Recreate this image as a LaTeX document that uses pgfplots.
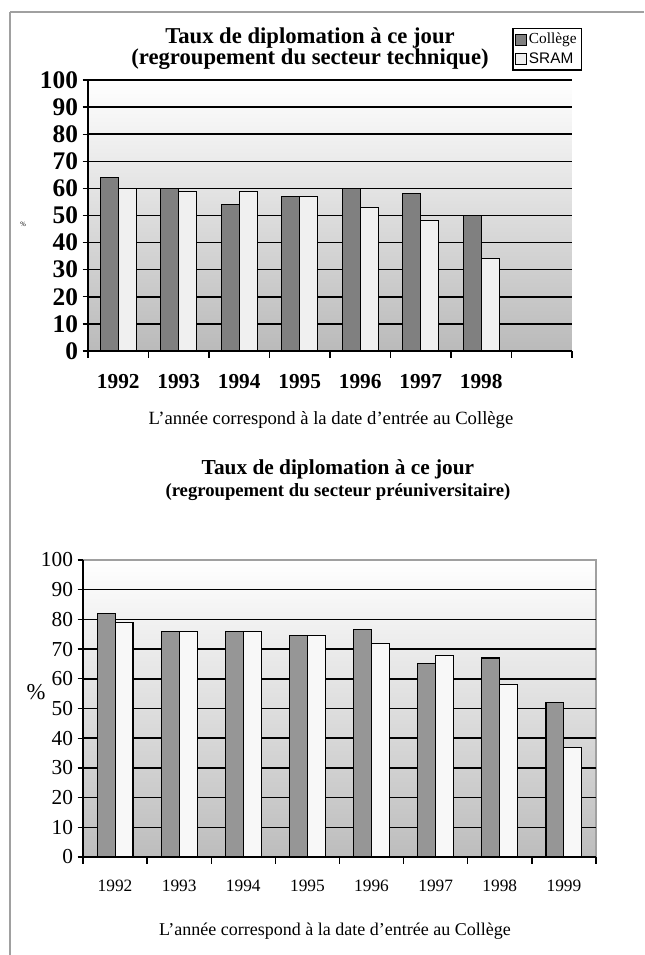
\documentclass[border=0pt]{standalone}
\usepackage{fontspec}
\setmainfont{Liberation Serif}
\newfontfamily\arialfont{Liberation Sans}
\usepackage{pgfplots}
\pgfplotsset{compat=1.18}
\definecolor{cdarkA}{HTML}{808080}
\definecolor{clightA}{HTML}{F0F0F0}
\definecolor{cdarkB}{HTML}{969696}
\definecolor{clightB}{HTML}{F8F8F8}
\definecolor{framegray}{HTML}{A0A0A0}
\pgfplotsset{
  sqlegend/.style={legend image code/.code={\draw[##1, line width=0.6pt] (0pt,-4pt) rectangle (8pt,4pt);}},
}
\begin{document}
\begin{tikzpicture}
\path[use as bounding box] (0pt,0pt) rectangle (483pt,716.25pt);
\draw[framegray, line width=1.5pt] (7.5pt,707.25pt) -- (483pt,707.25pt);
\draw[framegray, line width=1.5pt] (7.5pt,707.25pt) -- (7.5pt,0pt);
% ---------- top chart ----------
\begin{axis}[
  at={(66pt,453pt)}, anchor=south west,
  scale only axis, width=363pt, height=203.25pt,
  ybar=0pt, bar width=0.3,
  xmin=-0.5, xmax=7.5, ymin=0, ymax=100,
  axis x line*=bottom, axis y line*=left,
  axis line style={black, line width=1.3pt},
  axis background/.style={top color=white, bottom color=black!27},
  ytick={0,10,...,100},
  ymajorgrids, grid style={black, line width=1.1pt},
  xtick={0,...,6},
  xticklabels={1992,1993,1994,1995,1996,1997,1998},
  minor xtick={-0.5,0.5,...,7.5},
  major x tick style={draw=none},
  tick align=outside,
  major tick length=4pt, minor tick length=5pt,
  tick style={black, line width=1pt},
  /pgf/number format/assume math mode=true,
  yticklabel style={font=\fontsize{19}{19}\selectfont\bfseries},
  xticklabel style={font=\fontsize{16}{16}\selectfont\bfseries, yshift=-10pt},
  ylabel={\%},
  ylabel style={font=\fontsize{5}{5}\selectfont, rotate=-90, at={(axis description cs:-0.134,0.4686)}, anchor=center},
  xlabel={L’année correspond à la date d’entrée au Collège},
  xlabel style={font=\fontsize{14}{14}\selectfont, at={(axis description cs:0.502,-0.2546)}, anchor=center},
  title={Taux de diplomation à ce jour\\(regroupement du secteur technique)},
  title style={font=\fontsize{17}{15.5}\selectfont\bfseries, align=center, at={(axis description cs:0.4587,1.085)}, anchor=center},
  sqlegend,
  legend style={at={(axis description cs:1.0207,1.192)}, anchor=north east, draw=black, line width=1pt,
    font=\fontsize{11.5}{12}\selectfont, inner sep=1.5pt, row sep=1pt,
    /tikz/every even column/.append style={column sep=0pt}},
  legend cell align=left,
]
\addplot[fill=cdarkA, draw=black, line width=0.8pt, sqlegend] coordinates {(0,64) (1,60) (2,54) (3,57) (4,60) (5,58) (6,50)};
\addplot[fill=clightA, draw=black, line width=0.8pt, sqlegend] coordinates {(0,60) (1,59) (2,59) (3,57) (4,53) (5,48) (6,34)};
\legend{Collège,{\arialfont SRAM}}
\end{axis}
% ---------- bottom chart ----------
\begin{axis}[
  at={(62.25pt,73.5pt)}, anchor=south west,
  scale only axis, width=384.75pt, height=222.75pt,
  ybar=0pt, bar width=0.28,
  xmin=-0.5, xmax=7.5, ymin=0, ymax=100,
  axis x line*=bottom, axis y line*=left,
  axis line style={black, line width=1.3pt},
  axis background/.style={top color=white, bottom color=black!26, draw=framegray, line width=1.5pt},
  ytick={0,10,...,90},
  extra y ticks={100}, extra y tick style={grid=none},
  ymajorgrids, grid style={black, line width=1.1pt},
  xtick={0,...,7},
  xticklabels={1992,1993,1994,1995,1996,1997,1998,1999},
  minor xtick={-0.5,0.5,...,7.5},
  major x tick style={draw=none},
  tick align=outside,
  major tick length=4pt, minor tick length=5pt,
  tick style={black, line width=1pt},
  /pgf/number format/assume math mode=true,
  yticklabel style={font=\fontsize{16}{16}\selectfont},
  xticklabel style={font=\fontsize{13}{13}\selectfont, yshift=-10pt},
  ylabel={\%},
  ylabel style={font=\fontsize{17}{17}\selectfont, rotate=-90, at={(axis description cs:-0.0916,0.5556)}, anchor=center},
  xlabel={L’année correspond à la date d’entrée au Collège},
  xlabel style={font=\fontsize{13.5}{13.5}\selectfont, at={(axis description cs:0.491,-0.249)}, anchor=center},
  title={{\fontsize{16}{16}\selectfont Taux de diplomation à ce jour}\\(regroupement du secteur préuniversitaire)},
  title style={font=\fontsize{14}{16.5}\selectfont\bfseries, align=center, at={(axis description cs:0.497,1.243)}, anchor=center},
]
\addplot[fill=cdarkB, draw=black, line width=0.8pt] coordinates {(0,82) (1,76) (2,76) (3,74.5) (4,76.5) (5,65) (6,67) (7,52)};
\addplot[fill=clightB, draw=black, line width=0.8pt] coordinates {(0,79) (1,76) (2,76) (3,74.5) (4,72) (5,68) (6,58) (7,37)};
\end{axis}
\end{tikzpicture}
\end{document}
